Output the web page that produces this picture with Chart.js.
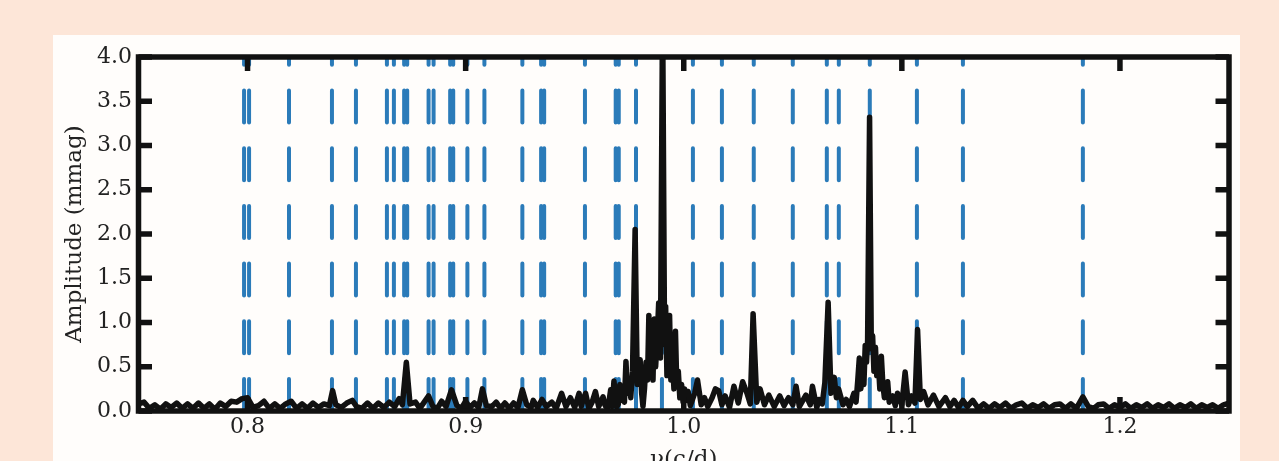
<!DOCTYPE html>
<html><head><meta charset="utf-8">
<script src="https://cdn.jsdelivr.net/npm/chart.js@4.4.1/dist/chart.umd.min.js"></script>
<style>
html,body{margin:0;padding:0;width:1279px;height:461px;overflow:hidden;background:#fde6d8;}
#panel{position:absolute;left:53px;top:35px;width:1187px;height:440px;background:#fffdfb;}
#c{position:absolute;left:0;top:0;}
</style></head><body>
<div id="panel"></div>
<canvas id="c" width="1279" height="480"></canvas>
<script>
// ---- data ----
const xTickValues = [0.8, 0.9, 1.0, 1.1, 1.2];
const xTickLabels = ["0.8", "0.9", "1.0", "1.1", "1.2"];
const yTickValues = [0, 0.5, 1, 1.5, 2, 2.5, 3, 3.5, 4];
const yTickLabels = ["0.0", "0.5", "1.0", "1.5", "2.0", "2.5", "3.0", "3.5", "4.0"];

// periodogram frequencies (c/d)
const spectrumFreq = [
 0.750,0.7525,0.755,0.7575,0.760,0.7625,0.765,0.7675,0.770,0.7725,
 0.775,0.7775,0.780,0.7825,0.785,0.7875,0.790,0.7925,0.795,0.7975,
 0.800,0.8025,0.805,0.8075,0.810,0.8125,0.815,0.8175,0.820,0.8225,
 0.825,0.8275,0.830,0.8325,0.835,0.8375,0.839,0.8405,0.843,0.8455,
 0.848,0.850,0.8525,0.855,0.8575,0.860,0.8625,0.865,0.8675,0.8695,
 0.871,0.8728,0.8745,0.877,0.879,0.881,0.883,0.885,0.887,0.889,
 0.891,0.8935,0.896,0.898,0.900,0.902,0.904,0.906,0.9077,0.9095,
 0.912,0.914,0.916,0.918,0.920,0.922,0.924,0.926,0.928,0.930,
 0.931,0.933,0.935,0.937,0.9395,0.9415,0.944,0.946,0.948,0.950,
 0.952,0.953,0.954,0.955,0.9565,0.958,0.9595,0.961,0.962,0.963,
 0.964,0.965,0.9658,0.9665,0.9672,0.968,0.9688,0.9694,0.9700,0.9707,
 0.9714,0.9721,0.9728,0.9735,0.9742,0.9750,0.9757,0.9765,0.9777,0.9787,
 0.9793,0.9800,0.9807,0.9813,0.9820,0.9827,0.9834,0.9840,0.9847,0.9853,
 0.9859,0.9865,0.9871,0.9878,0.9885,0.9893,0.9903,0.9912,0.9917,0.9923,
 0.9929,0.9935,0.9941,0.9948,0.9955,0.9962,0.9968,0.9975,0.9982,0.9990,
 0.9997,1.0004,1.0012,1.0020,1.003,1.005,1.0063,1.008,1.0095,1.011,
 1.013,1.0145,1.016,1.0175,1.019,1.021,1.023,1.025,1.027,1.029,
 1.0305,1.0318,1.0335,1.035,1.037,1.039,1.0415,1.044,1.046,1.048,
 1.050,1.0515,1.053,1.056,1.058,1.059,1.061,1.062,1.0635,1.0647,
 1.0662,1.0675,1.069,1.070,1.071,1.073,1.0745,1.076,1.078,1.0790,
 1.0798,1.0805,1.0812,1.0819,1.0826,1.0832,1.0838,1.0843,1.0852,1.0860,
 1.0866,1.0872,1.0879,1.0885,1.0892,1.0899,1.0906,1.0913,1.0920,1.0928,
 1.0935,1.0942,1.0958,1.097,1.098,1.100,1.1015,1.103,1.1045,1.106,
 1.1072,1.1085,1.110,1.112,1.1145,1.117,1.120,1.122,1.124,1.126,
 1.128,1.130,1.1325,1.135,1.1375,1.140,1.1425,1.145,1.1475,1.150,
 1.1525,1.155,1.1575,1.160,1.1625,1.165,1.1675,1.170,1.1725,1.175,
 1.1775,1.180,1.183,1.1855,1.188,1.190,1.1925,1.195,1.1975,1.200,
 1.2025,1.205,1.2075,1.210,1.2125,1.215,1.2175,1.220,1.2225,1.225,
 1.2275,1.230,1.2325,1.235,1.2375,1.240,1.2425,1.245,1.2475,1.250
];
// amplitudes (mmag)
const spectrumAmp = [
 .08,.10,.03,.07,.02,.08,.04,.09,.03,.08,
 .03,.09,.03,.08,.02,.09,.05,.11,.10,.14,
 .15,.04,.06,.11,.03,.08,.03,.08,.11,.03,
 .08,.03,.09,.04,.08,.06,.23,.07,.04,.09,
 .12,.05,.03,.09,.03,.09,.04,.10,.05,.14,
 .07,.55,.08,.10,.03,.10,.17,.05,.03,.11,
 .05,.24,.06,.03,.11,.04,.09,.04,.25,.06,
 .05,.10,.03,.09,.03,.09,.04,.24,.07,.04,
 .12,.04,.13,.05,.10,.03,.20,.05,.15,.04,
 .20,.05,.14,.20,.03,.10,.22,.05,.10,.16,
 .06,.03,.12,.24,.05,.34,.12,.05,.08,.30,
 .12,.25,.10,.56,.20,.35,.15,.45,2.05,.30,
 .45,.58,.20,.05,.25,.55,.35,1.08,.45,.70,
 .35,1.04,.50,.80,1.22,.60,4.6,.75,1.18,.40,
 .75,1.08,.35,.60,.25,.90,.30,.45,.15,.30,
 .10,.25,.12,.22,.06,.20,.35,.07,.15,.05,
 .15,.25,.23,.07,.17,.04,.28,.09,.33,.20,
 .08,1.10,.10,.25,.07,.18,.05,.17,.06,.15,
 .07,.28,.05,.18,.07,.28,.04,.13,.08,.32,
 1.23,.20,.38,.15,.25,.07,.13,.05,.20,.10,
 .35,.60,.25,.52,.30,.74,.55,.80,3.32,.70,
 .85,.45,.72,.40,.55,.25,.62,.30,.15,.25,
 .33,.10,.17,.06,.20,.07,.44,.07,.17,.09,
 .92,.13,.22,.07,.18,.05,.15,.05,.12,.04,
 .12,.05,.12,.03,.08,.03,.08,.04,.09,.03,
 .07,.09,.03,.07,.04,.08,.03,.07,.08,.03,
 .08,.03,.16,.05,.03,.07,.08,.03,.07,.04,
 .08,.03,.07,.04,.08,.03,.07,.04,.08,.03,
 .07,.04,.08,.03,.07,.04,.07,.03,.07,.09
];
// marked frequencies (dashed vertical lines)
const markedFreq = [
 0.7984,0.8007,0.8190,0.8387,0.8497,0.8639,0.8671,0.8718,0.8732,0.8830,
 0.8853,0.8929,0.8943,0.9008,0.9086,0.9260,0.9346,0.9360,0.9547,0.9688,
 0.9702,0.9781,0.9900,1.0042,1.0175,1.0321,1.0500,1.0656,1.0711,1.0853,
 1.1069,1.1280,1.1830
];
const xMin = 0.75, xMax = 1.25, yMin = 0, yMax = 4;

// ---- chart ----
const serif = "'DejaVu Serif', serif";
const framePlugin = {
  id: 'frame',
  afterDatasetsDraw(chart) {
    const {ctx, chartArea: a, scales: {x, y}} = chart;
    ctx.save();
    ctx.strokeStyle = '#111';
    ctx.lineWidth = 5.5;
    ctx.lineCap = 'butt';
    ctx.beginPath();
    xTickValues.forEach(v => {
      const px = x.getPixelForValue(v);
      ctx.moveTo(px, a.top); ctx.lineTo(px, a.top + 14);
      ctx.moveTo(px, a.bottom); ctx.lineTo(px, a.bottom - 14);
    });
    yTickValues.forEach(v => {
      const py = y.getPixelForValue(v);
      ctx.moveTo(a.left, py); ctx.lineTo(a.left + 13.5, py);
      ctx.moveTo(a.right, py); ctx.lineTo(a.right - 13.5, py);
    });
    ctx.stroke();
    ctx.strokeRect(a.left, a.top, a.right - a.left, a.bottom - a.top);
    ctx.restore();
  }
};

const datasets = [{
  data: spectrumFreq.map((f, i) => ({x: f, y: spectrumAmp[i]})),
  borderColor: '#111',
  borderWidth: 5.5,
  pointRadius: 0,
  tension: 0,
  borderJoinStyle: 'round',
  borderCapStyle: 'round',
  order: 0
}];
markedFreq.forEach(f => datasets.push({
  data: [{x: f, y: yMin}, {x: f, y: yMax}],
  borderColor: '#2b7bb9',
  borderWidth: 4,
  borderDash: [32, 25.7],
  borderCapStyle: 'round',
  pointRadius: 0,
  order: 1
}));

new Chart(document.getElementById('c'), {
  type: 'line',
  data: {datasets},
  options: {
    responsive: false,
    animation: false,
    layout: {padding: {left: 0, top: 57, right: 50, bottom: 0}},
    plugins: {legend: {display: false}, tooltip: {enabled: false}},
    scales: {
      x: {
        type: 'linear', min: xMin, max: xMax,
        afterBuildTicks: s => { s.ticks = xTickValues.map(v => ({value: v})); },
        afterFit: s => { s.height = 69; },
        grid: {display: false, drawTicks: false},
        border: {display: false},
        ticks: {padding: 3, color: '#222', font: {family: serif, size: 22},
                callback: v => xTickLabels[xTickValues.indexOf(v)]},
        title: {display: true, text: 'ν(c/d)', color: '#222',
                font: {family: serif, size: 23}, padding: {top: 0, bottom: 6}}
      },
      y: {
        type: 'linear', min: yMin, max: yMax,
        afterBuildTicks: s => { s.ticks = yTickValues.map(v => ({value: v})); },
        afterFit: s => { s.width = 138.5; },
        grid: {display: false, drawTicks: false},
        border: {display: false},
        ticks: {padding: 6.5, color: '#222', font: {family: serif, size: 22},
                callback: v => yTickLabels[yTickValues.indexOf(v)]},
        title: {display: true, text: 'Amplitude (mmag)', color: '#222',
                font: {family: serif, size: 23}, padding: {top: 61, bottom: 0}}
      }
    }
  },
  plugins: [framePlugin]
});
</script>
</body></html>
